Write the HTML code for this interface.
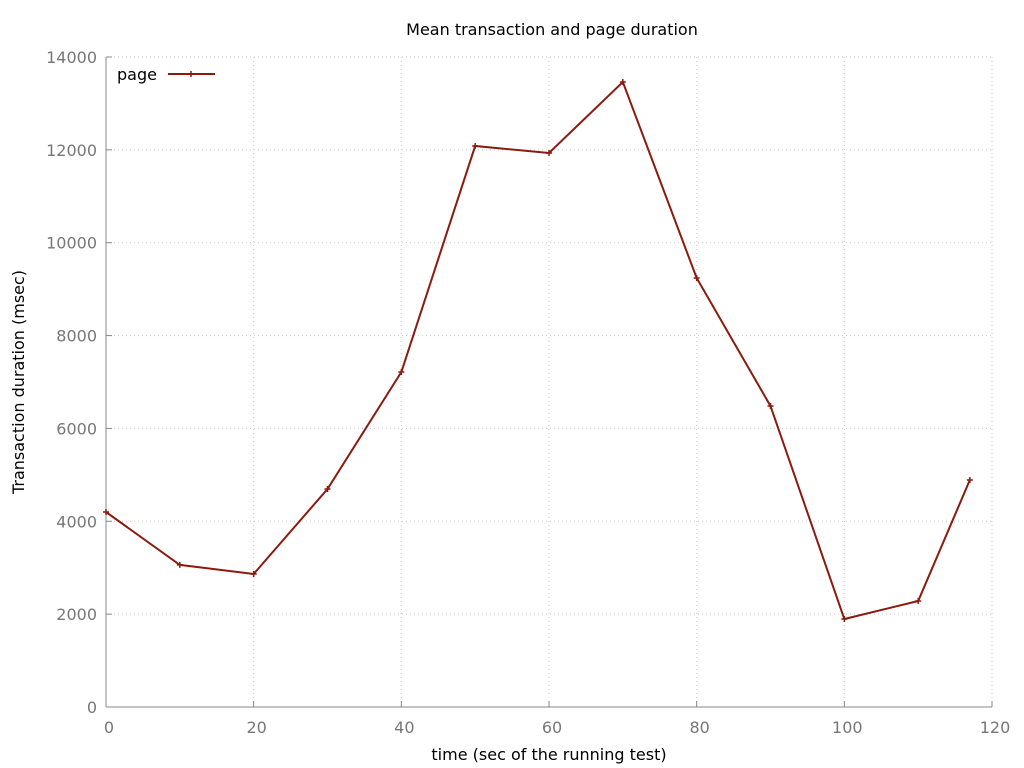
<!DOCTYPE html>
<html><head><meta charset="utf-8"><style>
html,body{margin:0;padding:0;background:#fff;}
svg{display:block;font-family:"DejaVu Sans","Liberation Sans",sans-serif;}
</style></head><body>
<svg id="chart" width="1024" height="768">
<text x="552" y="35" font-size="16" text-anchor="middle" fill="#000">Mean transaction and page duration</text>
<text x="549" y="760" font-size="16" text-anchor="middle" fill="#000">time (sec of the running test)</text>
<text transform="translate(24,382) rotate(-90)" font-size="16" text-anchor="middle" fill="#000">Transaction duration (msec)</text>
<g id="grid"></g><g id="axes"></g><g id="series"></g>
<g>
<text x="117" y="80" font-size="16" fill="#000">page</text>
<line x1="168" y1="74" x2="215" y2="74" stroke="#8b1a0e" stroke-width="2"/>
<path d="M188,74h6M191,71v6" stroke="#8b1a0e" stroke-width="1.5"/>
</g>
</svg>
<script>
const xs = [0,10,20,30,40,50,60,70,80,90,100,110,117];
const values = [4200,3060,2865,4695,7215,12083,11932,13462,9240,6483,1895,2283,4889];
const xTicks = [0,20,40,60,80,100,120];
const yTicks = [0,2000,4000,6000,8000,10000,12000,14000];
const L=106,R=992,T=57,B=707;
const sx=v=>L+(v-0)/120*(R-L);
const sy=v=>B-(v/14000)*(B-T);
const NS='http://www.w3.org/2000/svg';
function mk(tag,attrs,parent){const e=document.createElementNS(NS,tag);for(const k in attrs)e.setAttribute(k,attrs[k]);parent.appendChild(e);return e;}
const grid=document.getElementById('grid'),axes=document.getElementById('axes'),series=document.getElementById('series');
yTicks.forEach(t=>{
  const y=sy(t);
  if(t>0){const g=mk('line',{x1:L,x2:R,y1:y,y2:y,stroke:'#ccc','stroke-dasharray':'1,3'},grid);
  
  }
  const tk=mk('line',{x1:L,x2:L+6,y1:y,y2:y,stroke:'#888'},axes);
  
  
  const tx=mk('text',{x:97,y:y+6,'font-size':16,'text-anchor':'end',fill:'#777'},axes);
  tx.textContent=t;
  
  
});
xTicks.forEach(t=>{
  const x=sx(t);
  if(t>0){const g=mk('line',{x1:x,x2:x,y1:T,y2:B,stroke:'#ccc','stroke-dasharray':'1,3'},grid);
  
  }
  const tk=mk('line',{x1:x,x2:x,y1:B,y2:B-6,stroke:'#888'},axes);
  
  
  const tx=mk('text',{x:x+3,y:733,'font-size':16,'text-anchor':'middle',fill:'#777'},axes);
  tx.textContent=t;
  
  
});
const topB=mk('line',{x1:L,x2:R,y1:T,y2:T,stroke:'#ccc','stroke-dasharray':'1,3'},grid);


const yA=mk('line',{x1:L,x2:L,y1:T,y2:B,stroke:'#888'},axes);


const xA=mk('line',{x1:L,x2:R,y1:B,y2:B,stroke:'#888'},axes);


const pts=xs.map((x,i)=>sx(x)+','+sy(values[i])).join(' ');
const pl=mk('polyline',{points:pts,fill:'none',stroke:'#8b1a0e','stroke-width':2},series);


xs.forEach((x,i)=>{
  const px=sx(x),py=sy(values[i]);
  const m=mk('path',{d:`M${px-3},${py}h6M${px},${py-3}v6`,stroke:'#8b1a0e','stroke-width':1.5},series);
  
  
});
</script>
</body></html>
